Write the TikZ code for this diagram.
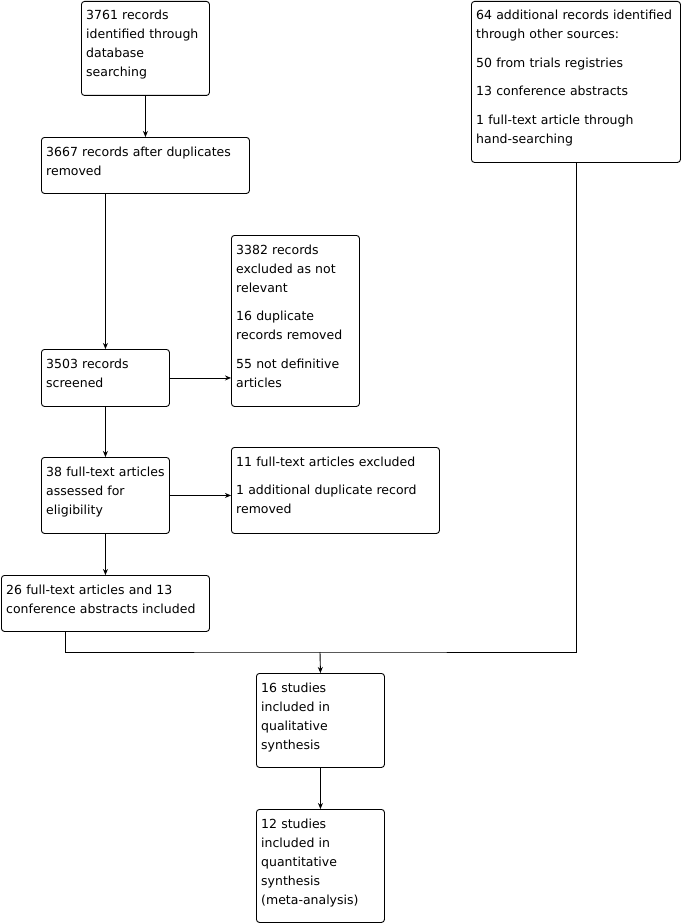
\documentclass[tikz,border=0pt]{standalone}
\usepackage{fontspec}
\setmainfont{DejaVu Sans}
\usetikzlibrary{arrows.meta}
\begin{document}
\begin{tikzpicture}[x=1pt,y=-1pt,
 box/.style={draw, rounded corners=3pt, inner sep=0pt, anchor=north west, line width=0.9pt},
 txt/.style={anchor=base west, inner sep=0pt, text width=205pt, align=left, font=\fontsize{12.5}{19}\selectfont},
 arr/.style={-{Stealth[length=6pt,width=5pt]}, line width=0.9pt},
 ln/.style={line width=0.9pt}]
\useasboundingbox (0,0) rectangle (681,923);
% boxes
\node[box, minimum width=128pt, minimum height=94pt] (a) at (81,1) {};
\node[box, minimum width=208pt, minimum height=56pt] (b) at (41,137) {};
\node[box, minimum width=209pt, minimum height=161pt] (c) at (471,1) {};
\node[box, minimum width=128pt, minimum height=171pt] (d) at (231,235) {};
\node[box, minimum width=128pt, minimum height=57pt] (e) at (41,349) {};
\node[box, minimum width=128pt, minimum height=76pt] (f) at (41,457) {};
\node[box, minimum width=208pt, minimum height=86pt] (g) at (231,447) {};
\node[box, minimum width=208pt, minimum height=56pt] (h) at (1,575) {};
\node[box, minimum width=128pt, minimum height=94pt] (i) at (256,673) {};
\node[box, minimum width=128pt, minimum height=113pt] (k) at (256,809) {};
% texts
\node[txt] (ta) at ([shift={(5,19)}]a.north west) {3761 records\\identified through\\database\\searching};
\node[txt] (tb) at ([shift={(5,19)}]b.north west) {3667 records after duplicates\\removed};
\node[txt] (tc) at ([shift={(5,19)}]c.north west) {64 additional records identified\\through other sources:\\[9.5pt]50 from trials registries\\[9.5pt]13 conference abstracts\\[9.5pt]1 full-text article through\\hand-searching};
\node[txt] (td) at ([shift={(5,19)}]d.north west) {3382 records\\excluded as not\\relevant\\[9.5pt]16 duplicate\\records removed\\[9.5pt]55 not definitive\\articles};
\node[txt] (te) at ([shift={(5,19)}]e.north west) {3503 records\\screened};
\node[txt] (tf) at ([shift={(5,19)}]f.north west) {38 full-text articles\\assessed for\\eligibility};
\node[txt] (tg) at ([shift={(5,19)}]g.north west) {11 full-text articles excluded\\[9.5pt]1 additional duplicate record\\removed};
\node[txt] (th) at ([shift={(5,19)}]h.north west) {26 full-text articles and 13\\conference abstracts included};
\node[txt] (ti) at ([shift={(5,19)}]i.north west) {16 studies\\included in\\qualitative\\synthesis};
\node[txt] (tk) at ([shift={(5,19)}]k.north west) {12 studies\\included in\\quantitative\\synthesis\\(meta-analysis)};
% connectors
\draw[arr] (a.south) -- (a.south |- b.north);
\draw[arr] (b.south -| e.north) -- (e.north);
\draw[arr] (e.east) -- (e.east -| d.west);
\draw[arr] (e.south) -- (f.north);
\draw[arr] (f.east) -- (f.east -| g.west);
\draw[arr] (f.south) -- (f.south |- h.north);
\coordinate (hs) at ([xshift=-40pt]h.south);
\coordinate (jn) at (320,652);
\draw[ln] (hs) |- (jn) -| (c.south);
\draw[arr] (jn) -- (i.north);
\draw[arr] (i.south) -- (k.north);
\end{tikzpicture}
\end{document}
